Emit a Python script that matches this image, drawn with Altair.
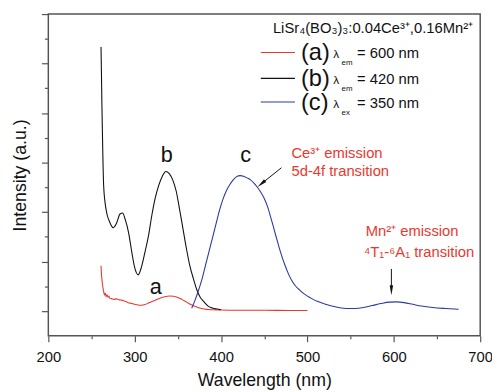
import altair as alt
import pandas as pd

# ---------------- data ----------------
# (a) lambda_em = 600 nm  (red)
wl_a = [261, 261.5, 262, 263, 264, 265, 266, 267, 268, 269, 270, 271, 273, 276, 279, 282,
        285, 288, 291, 294, 297, 300, 304, 308, 312, 316, 320, 325, 330, 335, 340, 345,
        350, 355, 360, 365, 370, 375, 380, 390, 400, 420, 450, 480, 500]
int_a = [2.83, 2.5, 2.3, 2.0, 1.8, 1.64, 1.72, 1.58, 1.66, 1.56, 1.6, 1.52, 1.5, 1.47, 1.49, 1.45,
         1.44, 1.40, 1.36, 1.32, 1.30, 1.27, 1.24, 1.23, 1.26, 1.32, 1.38, 1.46, 1.53, 1.58, 1.61, 1.60,
         1.55, 1.46, 1.36, 1.26, 1.18, 1.12, 1.08, 1.05, 1.04, 1.03, 1.03, 1.02, 1.02]

# (b) lambda_em = 420 nm  (black)
wl_b = [261, 261.5, 262, 263, 264, 266, 268, 271, 275, 279, 283, 286, 289, 293, 297, 300,
        304, 308, 312, 316, 320, 324, 328, 332, 336, 340, 344, 348, 352, 356, 360, 364,
        368, 372, 376, 380, 385, 390, 395, 400]
int_b = [11.67, 10.6, 9.4, 7.5, 6.1, 5.3, 4.9, 4.6, 4.37, 4.55, 4.92, 4.96, 4.7, 4.15, 3.3, 2.75,
         2.46, 2.8, 3.4, 4.05, 4.9, 5.6, 6.1, 6.45, 6.64, 6.55, 6.3, 5.85, 5.1, 4.3, 3.5, 2.8,
         2.3, 1.85, 1.55, 1.38, 1.2, 1.12, 1.08, 1.05]

# (c) lambda_ex = 350 nm  (blue)
wl_c = [366, 370, 374, 378, 382, 386, 390, 394, 398, 402, 406, 410, 414, 418, 422, 426,
        430, 434, 438, 442, 446, 450, 454, 458, 462, 466, 470, 474, 478, 482, 486, 490,
        495, 500, 505, 512, 520, 528, 536, 545, 555, 565, 575, 585, 595, 603, 612, 622,
        632, 645, 660, 675]
int_c = [1.11, 1.45, 1.85, 2.3, 2.85, 3.4, 3.95, 4.5, 5.05, 5.5, 5.85, 6.1, 6.3, 6.43, 6.47, 6.45,
         6.38, 6.3, 6.17, 6.0, 5.8, 5.55, 5.2, 4.72, 4.22, 3.72, 3.25, 2.85, 2.5, 2.22, 2.02, 1.88,
         1.72, 1.6, 1.5, 1.38, 1.28, 1.2, 1.14, 1.1, 1.1, 1.14, 1.22, 1.3, 1.36, 1.37, 1.34, 1.27,
         1.2, 1.14, 1.1, 1.07]

curve_names = ["a", "b", "c"]
curve_colors = ["#e8392f", "#111111", "#2b3a9e"]

x_ticks = [200, 250, 300, 350, 400, 450, 500, 550, 600, 650, 700]
y_ticks = [1, 2, 3, 4, 5, 6, 7, 8, 9, 10, 11, 12, 13]

# legend
legend_title = "LiSr₄(BO₃)₃:0.04Ce³⁺,0.16Mn²⁺"
legend_labels = ["(a)", "(b)", "(c)"]
legend_subs = ["em", "em", "ex"]
legend_values = ["= 600 nm", "= 420 nm", "= 350 nm"]
legend_y = [11.45, 10.40, 9.45]
legend_line_x = [446.0, 485.5]
legend_title_pos = [460.0, 12.25]
legend_label_x = 492.5
legend_lambda_x = 530.0
legend_sub_x = 539.5
legend_value_x = 557.5

# curve letters
letter_text = ["a", "b", "c"]
letter_x = [324.5, 337.0, 428.5]
letter_y = [1.67, 7.01, 7.01]

# red annotations
note_text = ["Ce³⁺ emission", "5d-4f transition", "Mn²⁺ emission", "⁴T₁-⁶A₁ transition"]
note_x = [481.5, 481.5, 567.5, 565.5]
note_y = [7.18, 6.45, 4.03, 3.17]

# arrows: start -> head centre
arrow_x = [469.9, 597.2]
arrow_y = [6.79, 2.70]
arrow_x2 = [446.6, 597.2]
arrow_y2 = [6.14, 1.84]
arrow_angle = [230, 180]

# ---------------- build ----------------
rows = []
for name, wl, it in (("a", wl_a, int_a), ("b", wl_b, int_b), ("c", wl_c, int_c)):
    for w, v in zip(wl, it):
        rows.append({"curve": name, "wl": w, "intensity": v})
df = pd.DataFrame(rows)

FONT = "Liberation Sans"
RED = "#e8392f"
X = alt.Scale(domain=[200, 700], nice=False, zero=False)
Y = alt.Scale(domain=[0, 13], nice=False, zero=False)
C = alt.Scale(domain=curve_names, range=curve_colors)

x_axis = alt.Axis(
    values=x_ticks,
    labelExpr="datum.value % 100 == 0 ? datum.label : ''",
    tickSize={"condition": {"test": "datum.value % 100 == 0", "value": 6}, "value": 3},
    tickColor="#555", tickWidth=1.2, domain=False, grid=False,
    labelFontSize=15, labelColor="#111", labelPadding=8, labelFlush=False,
    title="Wavelength (nm)", titleFontSize=18, titleFontWeight="normal",
    titleColor="#111", titlePadding=8,
)
y_axis = alt.Axis(
    values=y_ticks, labels=False,
    tickSize={"condition": {"test": "datum.value % 2 == 1", "value": 7}, "value": 4},
    tickColor="#555", tickWidth=1.2, domain=False, grid=False,
    title="Intensity (a.u.)", titleFontSize=18, titleFontWeight="normal",
    titleColor="#111", titlePadding=12,
)


def xq(field):
    return alt.X(field, scale=X, axis=x_axis)


def yq(field):
    return alt.Y(field, scale=Y, axis=y_axis)


lines = alt.Chart(df).mark_line(strokeWidth=1.1, interpolate="monotone").encode(
    x=xq("wl:Q"),
    y=yq("intensity:Q"),
    color=alt.Color("curve:N", scale=C, legend=None),
)

leg_df = pd.DataFrame({
    "curve": curve_names,
    "x1": [legend_line_x[0]] * 3,
    "x2": [legend_line_x[1]] * 3,
    "y": legend_y,
    "label": legend_labels,
    "sub": legend_subs,
    "val": legend_values,
})

leg_lines = alt.Chart(leg_df).mark_rule(strokeWidth=1.1).encode(
    x=xq("x1:Q"), x2="x2:Q", y=yq("y:Q"),
    color=alt.Color("curve:N", scale=C, legend=None),
)


def leg_text(field, xpos, size, dy):
    return alt.Chart(leg_df).transform_calculate(xx=str(xpos)).mark_text(
        align="left", baseline="alphabetic", fontSize=size, dy=dy, font=FONT, color="#111"
    ).encode(x=xq("xx:Q"), y=yq("y:Q"), text=f"{field}:N")


leg_labels = leg_text("label", legend_label_x, 24, 8.0)
leg_lambda = alt.Chart(leg_df).transform_calculate(xx=str(legend_lambda_x)).mark_text(
    align="left", baseline="alphabetic", fontSize=12, dy=5.7, font=FONT, color="#111", text="λ"
).encode(x=xq("xx:Q"), y=yq("y:Q"))
leg_subs = leg_text("sub", legend_sub_x, 8, 13.0)
leg_vals = leg_text("val", legend_value_x, 15, 5.7)

title_df = pd.DataFrame({"x": [legend_title_pos[0]], "y": [legend_title_pos[1]], "t": [legend_title]})
leg_title = alt.Chart(title_df).mark_text(
    align="left", baseline="alphabetic", fontSize=15, font=FONT, color="#111"
).encode(x=xq("x:Q"), y=yq("y:Q"), text="t:N")

let_df = pd.DataFrame({"x": letter_x, "y": letter_y, "t": letter_text})
letters = alt.Chart(let_df).mark_text(
    align="center", baseline="alphabetic", fontSize=22, font=FONT, color="#111"
).encode(x=xq("x:Q"), y=yq("y:Q"), text="t:N")

note_df = pd.DataFrame({"x": note_x, "y": note_y, "t": note_text})
notes = alt.Chart(note_df).mark_text(
    align="left", baseline="alphabetic", fontSize=15, font=FONT, color=RED
).encode(x=xq("x:Q"), y=yq("y:Q"), text="t:N")

arr_df = pd.DataFrame({"x": arrow_x, "y": arrow_y, "x2": arrow_x2, "y2": arrow_y2, "ang": arrow_angle})
arr_lines = alt.Chart(arr_df).mark_rule(color="#111", strokeWidth=1).encode(
    x=xq("x:Q"), y=yq("y:Q"), x2="x2:Q", y2="y2:Q",
)
arr_heads = alt.Chart(arr_df).mark_point(
    shape="M0,-1L0.35,1L-0.35,1Z", filled=True, size=100, color="#111", opacity=1
).encode(
    x=xq("x2:Q"), y=yq("y2:Q"),
    angle=alt.Angle("ang:Q", scale=None),
)

chart = alt.layer(
    lines, leg_lines, leg_labels, leg_lambda, leg_subs, leg_vals, leg_title,
    letters, notes, arr_lines, arr_heads,
).properties(
    width=439, height=327, autosize="none",
    padding={"left": 41, "top": 3, "right": 12, "bottom": 54},
).configure(font=FONT).configure_view(stroke="#555", strokeWidth=1.5)

chart.save("out.html", embed_options={"renderer": "svg", "actions": False})
